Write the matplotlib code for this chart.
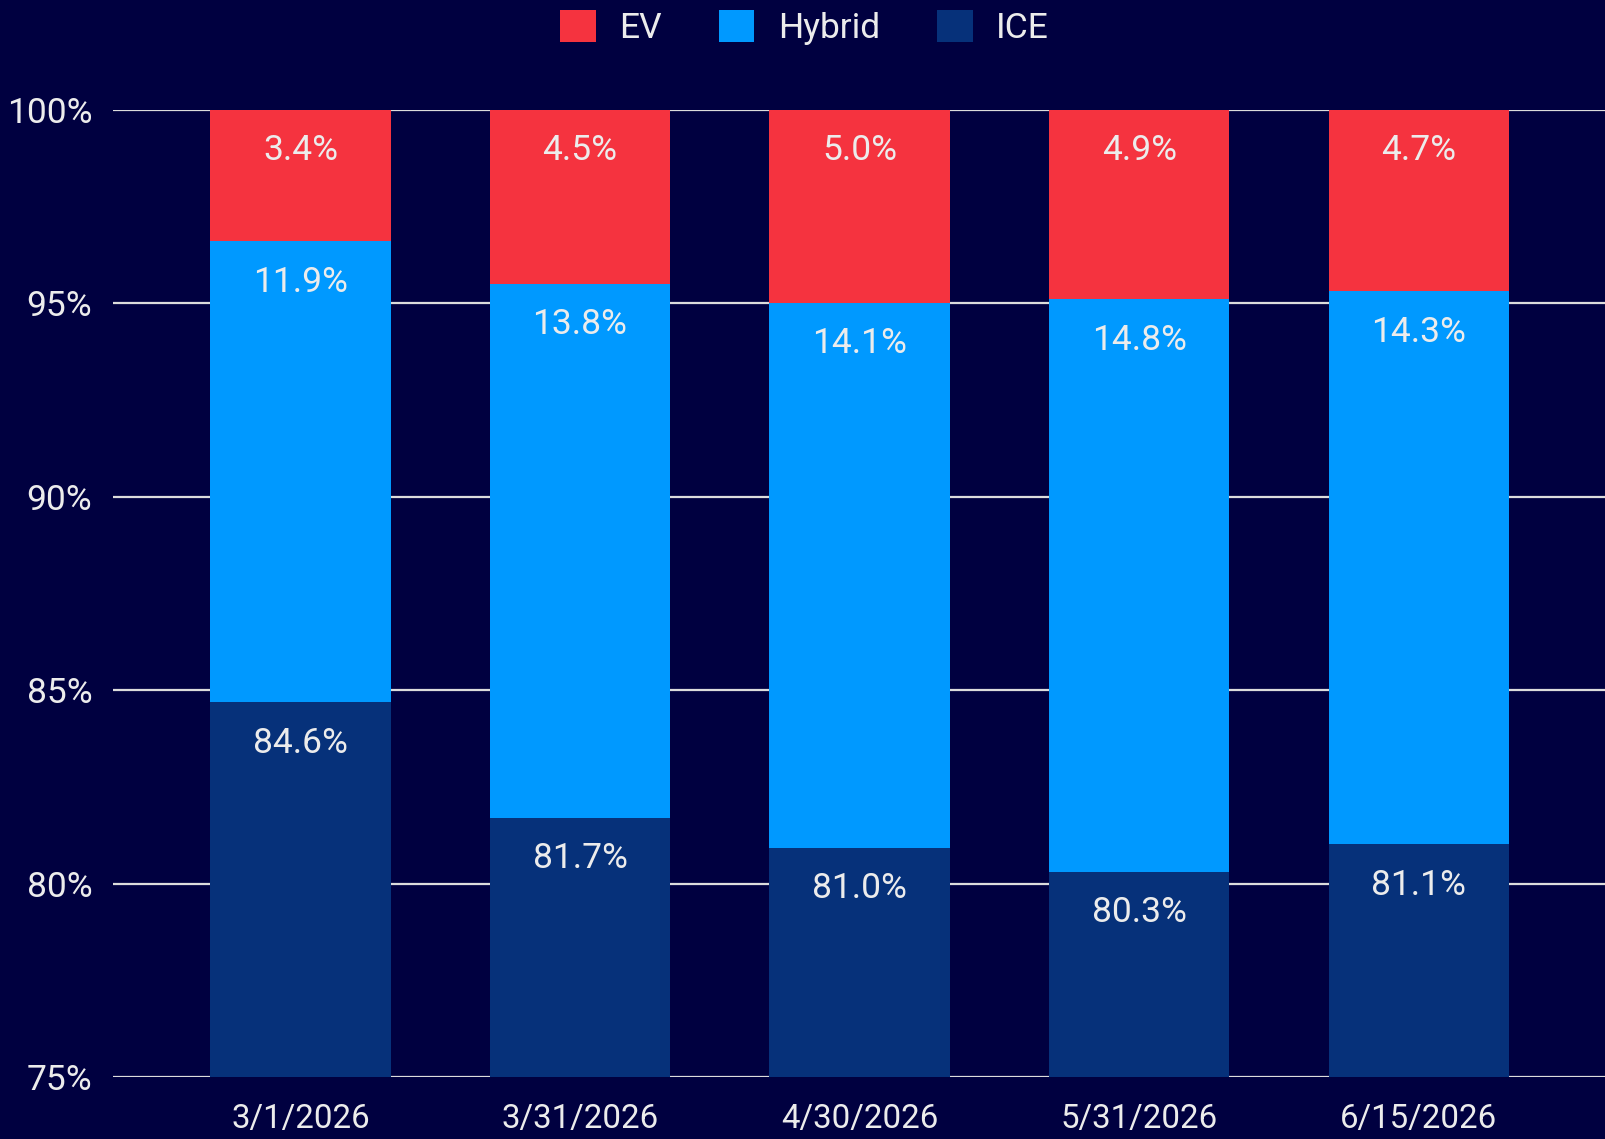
import matplotlib.pyplot as plt
import numpy as np
from matplotlib.patches import Patch

dates = ['3/1/2026', '3/31/2026', '4/30/2026', '5/31/2026', '6/15/2026']
ice = [84.6, 81.7, 81.0, 80.3, 81.1]
hybrid = [11.9, 13.8, 14.1, 14.8, 14.3]
ev = [3.4, 4.5, 5.0, 4.9, 4.7]

bg = '#000040'
colors = {'EV': '#f5333f', 'Hybrid': '#0099ff', 'ICE': '#06317a'}
txt = '#ececec'

plt.rcParams['font.family'] = ['Roboto', 'DejaVu Sans']

fig = plt.figure(figsize=(16.06, 11.39), dpi=100, facecolor=bg)
ax = fig.add_axes([0.0704, 0.0544, 0.9296, 0.8494], facecolor=bg)

x = np.arange(len(dates))
w = 0.645
# 100% stacked: normalise each column to its total
total = np.array(ice) + np.array(hybrid) + np.array(ev)
ice_s = np.array(ice) / total * 100
hyb_s = np.array(hybrid) / total * 100
ev_s = np.array(ev) / total * 100

ax.bar(x, ice_s, w, color=colors['ICE'], zorder=2)
ax.bar(x, hyb_s, w, bottom=ice_s, color=colors['Hybrid'], zorder=2)
ax.bar(x, ev_s, w, bottom=ice_s + hyb_s, color=colors['EV'], zorder=2)

ax.set_ylim(75, 100)
ax.set_xlim(-0.67, 4.67)

# value labels just below the top of each segment
for i in range(len(dates)):
    tops = [ice_s[i], ice_s[i] + hyb_s[i], 100]
    vals = [ice[i], hybrid[i], ev[i]]
    for top, v in zip(tops, vals):
        ax.annotate(f'{v:.1f}%', (x[i], top), xytext=(0, -29.5), textcoords='offset points',
                    ha='center', va='center', color=txt, fontsize=25.5, zorder=3)

ax.set_yticks([75, 80, 85, 90, 95, 100])
ax.set_yticklabels([f'{t}%' for t in [75, 80, 85, 90, 95, 100]])
ax.set_xticks(x)
ax.set_xticklabels(dates)
ax.tick_params(axis='both', length=0, colors=txt)
ax.tick_params(axis='y', pad=15, labelsize=25.5)
ax.tick_params(axis='x', pad=19, labelsize=23.8)
ax.grid(axis='y', color='#dcdcdc', linewidth=1.6, zorder=1)
ax.set_axisbelow(True)
for s in ax.spines.values():
    s.set_visible(False)

handles = [Patch(facecolor=colors[k], label=k) for k in ['EV', 'Hybrid', 'ICE']]
fig.legend(handles=handles, loc='center', bbox_to_anchor=(0.501, 0.976), ncol=3,
           frameon=False, fontsize=25.5, labelcolor=txt, handlelength=1.0, handleheight=1.0,
           columnspacing=1.62, handletextpad=0.66)

fig.savefig('out.png', dpi=100, facecolor=bg)
